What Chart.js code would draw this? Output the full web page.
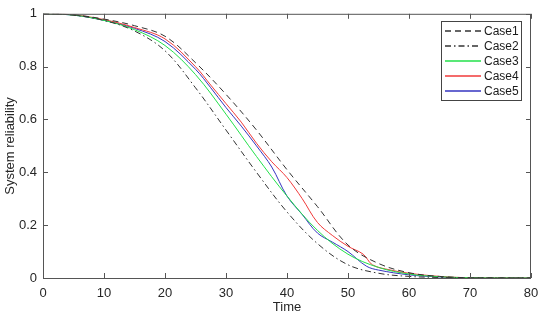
<!DOCTYPE html>
<html>
<head>
<meta charset="utf-8">
<script src="https://cdn.jsdelivr.net/npm/chart.js@4/dist/chart.umd.min.js"></script>
<style>
  body { margin: 0; background: #fff; }
  #wrap { width: 550px; height: 320px; }
</style>
</head>
<body>
<div id="wrap"><canvas id="c"></canvas></div>
<script>
const case1T = [0, 5, 10, 15, 20, 25, 30, 35, 40, 45, 50, 55, 60, 65, 70, 80];
const case1 = [1, 0.996, 0.98, 0.955, 0.915, 0.815, 0.695, 0.56, 0.41, 0.27, 0.125, 0.055, 0.02, 0.006, 0.001, 0];

const case2T = [0, 5, 10, 15, 20, 25, 30, 35, 40, 45, 50, 55, 60, 65, 70, 80];
const case2 = [1, 0.995, 0.975, 0.935, 0.86, 0.72, 0.56, 0.40, 0.25, 0.13, 0.05, 0.018, 0.006, 0.002, 0, 0];

const case3T = [0, 5, 10, 15, 20, 25, 30, 35, 40, 45, 50, 55, 60, 65, 70, 80];
const case3 = [1, 0.995, 0.975, 0.94, 0.88, 0.77, 0.62, 0.46, 0.31, 0.18, 0.09, 0.04, 0.015, 0.005, 0.001, 0];

const case4T = [0, 5, 10, 15, 20, 25, 27.5, 30, 32.5, 35, 37.5, 40, 42.5, 45, 47.5, 50, 52.5, 54, 57, 60, 65, 70, 80];
const case4 = [1, 0.996, 0.978, 0.948, 0.905, 0.80, 0.73, 0.66, 0.59, 0.51, 0.44, 0.38, 0.30, 0.21, 0.16, 0.12, 0.09, 0.05, 0.03, 0.018, 0.006, 0.001, 0];

const case5T = [0, 5, 10, 15, 20, 25, 27.5, 30, 32.5, 35, 37.5, 40, 42.5, 45, 47.5, 50, 53, 55, 60, 65, 70, 80];
const case5 = [1, 0.995, 0.975, 0.945, 0.895, 0.79, 0.72, 0.645, 0.575, 0.50, 0.42, 0.31, 0.24, 0.17, 0.135, 0.10, 0.045, 0.03, 0.012, 0.004, 0.001, 0];

const xTicks = [0, 10, 20, 30, 40, 50, 60, 70, 80];
const yTicks = [0, 0.2, 0.4, 0.6, 0.8, 1];

const names = ["Case1", "Case2", "Case3", "Case4", "Case5"];
const colors = ["#333333", "#333333", "#22e04a", "#f03a3a", "#3535c0"];
const dashes = [[6, 4], [6, 3, 1.5, 3], [], [], []];

function pts(t, v) { return t.map((x, i) => ({ x: x, y: v[i] })); }
const series = [pts(case1T, case1), pts(case2T, case2), pts(case3T, case3), pts(case4T, case4), pts(case5T, case5)];

const axisColor = "#262626";
const font = { family: "'Liberation Sans', Arial, sans-serif", size: 13 };

// box round the axes with ticks pointing inwards, plus a MATLAB style legend
const boxPlugin = {
  id: "box",
  afterDraw(chart) {
    const ctx = chart.ctx;
    const a = chart.chartArea;
    const xs = chart.scales.x, ys = chart.scales.y;
    ctx.save();
    ctx.strokeStyle = "#555";
    ctx.lineWidth = 1;
    ctx.strokeRect(a.left + 0.5, a.top + 0.5, a.right - a.left - 1, a.bottom - a.top);
    ctx.beginPath();
    xTicks.forEach(v => {
      const px = Math.round(xs.getPixelForValue(v)) + 0.5;
      ctx.moveTo(px, a.bottom); ctx.lineTo(px, a.bottom - 5);
      ctx.moveTo(px, a.top); ctx.lineTo(px, a.top + 5);
    });
    yTicks.forEach(v => {
      const py = Math.round(ys.getPixelForValue(v)) + 0.5;
      ctx.moveTo(a.left, py); ctx.lineTo(a.left + 5, py);
      ctx.moveTo(a.right, py); ctx.lineTo(a.right - 5, py);
    });
    ctx.stroke();

    // legend
    const lx = 441, ly = 21, lw = 80, lh = 79;
    ctx.fillStyle = "#fff";
    ctx.fillRect(lx, ly, lw, lh);
    ctx.strokeStyle = "#444";
    ctx.strokeRect(lx + 0.5, ly + 0.5, lw, lh);
    ctx.font = "12px 'Liberation Sans', Arial, sans-serif";
    ctx.textBaseline = "middle";
    names.forEach((n, i) => {
      const y = ly + 10 + i * 15;
      ctx.strokeStyle = colors[i];
      ctx.lineWidth = 1.4;
      ctx.setLineDash(dashes[i]);
      ctx.beginPath();
      ctx.moveTo(lx + 4, y);
      ctx.lineTo(lx + 40, y);
      ctx.stroke();
      ctx.setLineDash([]);
      ctx.fillStyle = "#1a1a1a";
      ctx.fillText(n, lx + 43, y + 1);
    });
    ctx.restore();
  }
};

new Chart(document.getElementById("c"), {
  type: "line",
  data: {
    datasets: series.map((d, i) => ({
      label: names[i],
      data: d,
      borderColor: colors[i],
      borderWidth: 1,
      borderDash: dashes[i],
      pointRadius: 0,
      tension: 0.35,
      fill: false
    }))
  },
  options: {
    responsive: true,
    maintainAspectRatio: false,
    animation: false,
    layout: { padding: { top: 11, right: 19, left: 0, bottom: 0 } },
    plugins: { legend: { display: false }, tooltip: { enabled: false } },
    scales: {
      x: {
        type: "linear",
        min: 0, max: 80,
        afterBuildTicks: s => { s.ticks = xTicks.map(v => ({ value: v })); },
        afterFit: s => { s.height = 42; },
        grid: { display: false, drawTicks: false },
        border: { display: false },
        ticks: { color: axisColor, font: font, padding: 8, maxRotation: 0 },
        title: { display: true, text: "Time", color: axisColor, font: font, padding: { top: 0, bottom: 5 } }
      },
      y: {
        type: "linear",
        min: 0, max: 1,
        afterBuildTicks: s => { s.ticks = yTicks.map(v => ({ value: v })); },
        afterFit: s => { s.width = 43; },
        grid: { display: false, drawTicks: false },
        border: { display: false },
        ticks: { color: axisColor, font: font, padding: 6, callback: v => String(Math.round(v * 10) / 10) },
        title: { display: true, text: "System reliability", color: axisColor, font: font, padding: { top: 3, bottom: 0 } }
      }
    }
  },
  plugins: [boxPlugin]
});
</script>
</body>
</html>
